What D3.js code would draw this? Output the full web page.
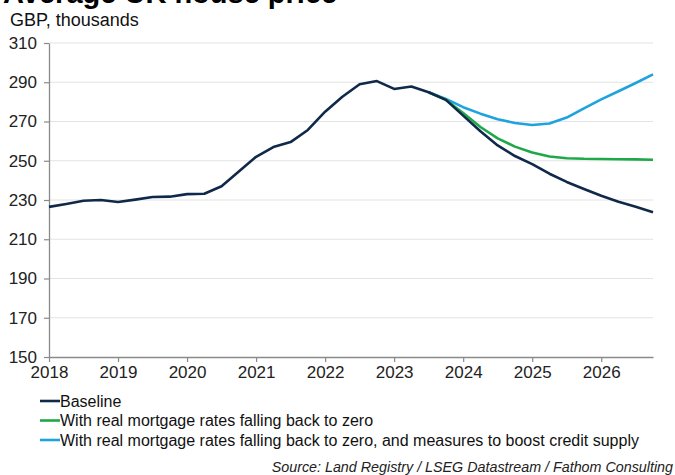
<!DOCTYPE html>
<html>
<head>
<meta charset="utf-8">
<script src="https://cdn.jsdelivr.net/npm/d3@7"></script>
<style>
  html, body { margin: 0; padding: 0; background: #fff; }
  svg { display: block; font-family: "Liberation Sans", Arial, sans-serif; }
</style>
</head>
<body>
<svg id="chart" width="675" height="475"></svg>
<script>
// Quarterly observations (year fraction) and house prices, GBP thousands
const quarters = d3.range(0, 36).map(i => 2018 + i * 0.25);
const baseline = [
  226.5, 228, 229.6, 230, 229, 230.2, 231.5, 231.7, 233, 233.2,
  237, 244.5, 252, 257, 259.5, 265.7, 275, 282.6, 289, 290.6,
  286.6, 287.8, 284.9, 281, 273, 265, 257.8, 252.4, 248.3, 243.4,
  239.2, 235.6, 232.2, 229.1, 226.6, 223.8
];
// Scenario paths start from the last shared point (2023 Q3)
const scenarioStart = 2023.5;
const realRatesZero = [
  284.9, 281, 274.3, 267.2, 261.4, 257.2, 254.2, 252.2, 251.3, 251,
  250.9, 250.8, 250.7, 250.5
];
const ratesZeroCredit = [
  284.9, 281.5, 277.3, 274, 271.2, 269.2, 268.2, 269, 272, 276.7,
  281.3, 285.4, 289.6, 294
];
const yTicks = [150, 170, 190, 210, 230, 250, 270, 290, 310];
const xTicks = [2018, 2019, 2020, 2021, 2022, 2023, 2024, 2025, 2026];
const seriesNames = [
  "Baseline",
  "With real mortgage rates falling back to zero",
  "With real mortgage rates falling back to zero, and measures to boost credit supply"
];
const seriesColors = ["#10294a", "#1fa84a", "#1ea3dd"];

const svg = d3.select("#chart");
const x = d3.scaleLinear().domain([2018, 2026.75]).range([49, 653]);
const y = d3.scaleLinear().domain([150, 310]).range([357, 43]);

// Title and units
svg.append("text").attr("x", 3).attr("y", 3)
  .attr("font-size", 29).attr("font-weight", "bold").attr("fill", "#000")
  .text("Average UK house price");
svg.append("text").attr("x", 10).attr("y", 26)
  .attr("font-size", 18).attr("fill", "#111")
  .text("GBP, thousands");

// Horizontal gridlines
svg.append("g").selectAll("line").data(yTicks.slice(1)).join("line")
  .attr("x1", x(2018)).attr("x2", x(2026.75))
  .attr("y1", d => y(d)).attr("y2", d => y(d))
  .attr("stroke", "#e3e3e3").attr("stroke-width", 1);

// Axes
const yAxis = svg.append("g").attr("transform", `translate(${x(2018)},0)`)
  .call(d3.axisLeft(y).tickValues(yTicks).tickSize(5).tickPadding(7).tickSizeOuter(0));
const xAxis = svg.append("g").attr("transform", `translate(0,${y(150)})`)
  .call(d3.axisBottom(x).tickValues(xTicks).tickFormat(d3.format("d")).tickSize(5).tickPadding(4).tickSizeOuter(0));
[yAxis, xAxis].forEach(g => {
  g.select(".domain").attr("stroke", "#8a8a8a").attr("stroke-width", 1.3);
  g.selectAll(".tick line").attr("stroke", "#8a8a8a").attr("stroke-width", 1.2);
  g.selectAll(".tick text").attr("font-size", 17).attr("fill", "#222")
    .attr("font-family", "'Liberation Sans', Arial, sans-serif");
});

// Lines
const line = d3.line().x(d => x(d[0])).y(d => y(d[1]));
const scenarioQuarters = realRatesZero.map((_, i) => scenarioStart + i * 0.25);
const series = [
  quarters.map((q, i) => [q, baseline[i]]),
  scenarioQuarters.map((q, i) => [q, realRatesZero[i]]),
  scenarioQuarters.map((q, i) => [q, ratesZeroCredit[i]])
];
// Draw scenarios first so the baseline sits on top where they overlap
[2, 1, 0].forEach(k => {
  svg.append("path").datum(series[k])
    .attr("d", line).attr("fill", "none")
    .attr("stroke", seriesColors[k]).attr("stroke-width", 2.6)
    .attr("stroke-linejoin", "round");
});

// Legend
const legend = svg.append("g");
seriesNames.forEach((name, i) => {
  const ly = 401 + i * 19.5;
  legend.append("line").attr("x1", 40).attr("x2", 60).attr("y1", ly).attr("y2", ly)
    .attr("stroke", seriesColors[i]).attr("stroke-width", 2.6);
  legend.append("text").attr("x", 60).attr("y", ly + 5.5)
    .attr("font-size", 16).attr("fill", "#111").text(name);
});

// Source note
svg.append("text").attr("x", 673).attr("y", 472).attr("text-anchor", "end")
  .attr("font-size", 14.3).attr("font-style", "italic").attr("fill", "#222")
  .text("Source: Land Registry / LSEG Datastream / Fathom Consulting");
</script>
</body>
</html>
